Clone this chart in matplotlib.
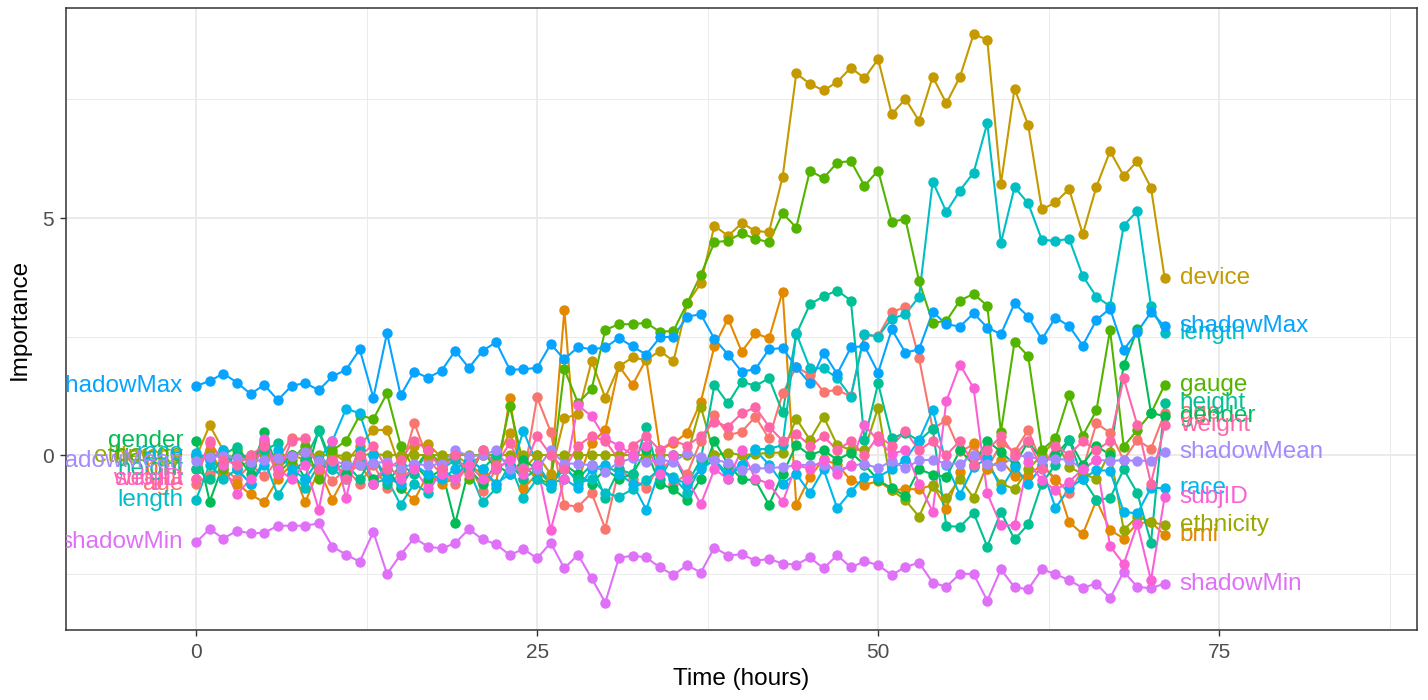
import numpy as np
import matplotlib
matplotlib.use("Agg")
import matplotlib.pyplot as plt
from matplotlib.ticker import MultipleLocator

hours = list(range(72))

age = [-0.60, -0.42, -0.30, -0.50, -0.20, -0.45, -0.10, 0.37, 0.33, -0.20, -0.55, -0.30,
       -0.60, -0.20, -0.70, -0.35, 0.68, -0.10, -0.40, -0.60, -0.20, -0.75, -0.30, -0.10,
       -0.50, 1.22, 0.49, -1.05, -1.09, -0.80, -1.55, -0.30, -0.50, -0.70, -0.20, -0.60,
       -0.40, 0.30, 0.84, 0.42, 0.49, 0.81, 0.35, 1.30, 1.86, 1.69, 1.34, 1.37,
       1.24, 2.53, 2.51, 3.02, 3.12, 2.04, 0.55, 0.74, 0.08, 0.22, -0.30, 0.25,
       0.07, 0.53, -0.20, -0.50, -0.80, -0.30, 0.67, 0.47, -0.10, 0.32, 0.13, 0.88]

bmi = [-0.30, 0.10, -0.40, -0.60, -0.83, -1.00, -0.50, -0.20, -1.00, -0.30, -0.94, -0.40,
       -0.20, -0.60, -0.30, -0.70, -0.95, -0.40, -0.60, -0.50, -0.20, -0.40, -0.60, 1.21,
       -0.70, -0.40, -0.50, 3.06, -0.53, 0.26, 0.53, 1.88, 1.48, 2.02, 0.11, 0.25,
       0.47, 1.12, 2.30, 2.88, 2.18, 2.57, 2.46, 3.45, -1.05, -0.46, -0.09, -0.20,
       -0.53, -0.63, -0.55, -0.74, -0.72, -0.72, -0.63, -1.13, -0.35, 0.25, -0.30, -0.10,
       -0.44, -0.44, -0.20, -0.53, -1.41, -1.67, -0.95, -1.58, -1.76, -1.44, -1.41, -1.69]

device = [-0.05, 0.63, 0.10, -0.30, -0.10, 0.10, -0.25, 0.00, -0.10, -0.35, 0.05, -0.15,
          0.20, 0.53, 0.53, -0.30, 0.20, 0.23, -0.05, 0.00, -0.20, 0.00, -0.10, 0.47,
          -0.30, 0.00, -0.40, 0.78, 0.86, 1.98, 1.21, 1.87, 2.06, 2.00, 2.20, 1.98,
          3.20, 3.62, 4.84, 4.62, 4.89, 4.73, 4.70, 5.87, 8.05, 7.83, 7.69, 7.87,
          8.17, 7.95, 8.35, 7.19, 7.51, 7.05, 7.98, 7.42, 7.98, 8.88, 8.76, 5.72,
          7.73, 6.96, 5.18, 5.33, 5.61, 4.66, 5.66, 6.41, 5.89, 6.20, 5.64, 3.74]

ethnicity = [-0.03, 0.00, 0.00, -0.05, 0.00, 0.02, 0.00, 0.00, 0.03, 0.00, 0.00, -0.02,
             0.00, 0.02, 0.00, 0.00, 0.00, 0.00, 0.00, 0.00, 0.00, 0.00, 0.00, 0.00,
             0.00, 0.00, 0.00, 0.00, 0.00, 0.00, 0.00, 0.00, 0.00, 0.00, 0.00, 0.00,
             0.00, 1.02, 0.00, 0.05, 0.00, 0.02, 0.05, 0.05, 0.77, 0.32, 0.81, 0.21,
             0.11, 0.11, 1.00, -0.74, -0.95, -1.30, -0.65, -0.90, -0.50, -0.90, -0.20, -0.60,
             -0.72, -0.30, 0.00, 0.32, -0.25, -0.40, -0.50, 0.07, -1.58, -1.30, -1.41, -1.48]

gauge = [0.00, -0.10, -0.30, 0.10, -0.20, 0.30, -0.40, -0.10, 0.20, -0.50, 0.10, 0.30,
         0.84, 0.76, 1.30, 0.20, -0.30, 0.10, -0.20, 0.00, -0.50, 0.10, -0.30, 1.03,
         -0.20, -0.50, -0.60, 1.81, 1.10, 1.39, 2.64, 2.76, 2.76, 2.79, 2.60, 2.62,
         3.20, 3.80, 4.49, 4.52, 4.68, 4.56, 4.49, 5.10, 4.80, 6.00, 5.84, 6.17,
         6.20, 5.68, 6.00, 4.92, 4.98, 3.67, 2.79, 2.83, 3.26, 3.40, 3.15, 0.49,
         2.39, 2.09, 0.11, 0.35, 1.27, 0.41, 0.94, 2.64, 0.18, 0.53, 0.88, 1.48]

gender = [0.30, -0.98, -0.20, 0.00, -0.40, 0.49, -0.30, 0.00, -0.50, 0.53, -0.20, -0.40,
          0.00, -0.50, -0.30, -0.70, -0.20, -0.50, -0.30, -1.44, -0.30, -0.60, -0.20, -0.40,
          -0.10, -0.30, -0.60, -0.20, -0.40, -0.60, -0.30, -0.50, -0.40, 0.10, -0.60, -0.72,
          -0.95, -0.50, 0.30, -0.20, -0.51, -0.53, -1.05, -0.40, 0.21, 0.00, 0.10, -0.10,
          0.05, -0.20, -0.53, -0.70, -0.86, -0.30, -0.41, -0.46, 0.10, -0.20, 0.30, 0.07,
          -0.20, 0.28, -0.10, 0.00, 0.32, -0.20, 0.20, 0.00, 1.90, 2.65, 0.89, 0.82]

height = [-0.30, -0.50, 0.00, 0.18, -0.20, 0.10, 0.25, -0.40, -0.10, 0.50, -0.30, -0.20,
          -0.50, 0.00, -0.60, -0.20, -0.40, 0.10, -0.30, -0.50, -0.10, -0.30, 0.00, -0.20,
          -0.50, -0.30, -0.60, -0.30, -0.50, -0.20, -0.90, -0.30, -0.40, 0.60, -0.50, 0.00,
          -0.60, -0.10, 1.48, 1.09, 1.55, 1.46, 1.62, 0.90, 2.55, 3.18, 3.35, 3.47,
          3.26, 0.32, 1.51, 0.35, 0.47, 0.30, 0.56, -1.50, -1.51, -1.22, -1.93, -1.20,
          -1.78, -1.46, -0.60, -0.20, 0.32, -0.50, -0.94, -0.91, -0.30, -0.80, -1.85, 1.10]

length = [-0.94, -0.20, -0.50, -0.30, -0.60, -0.10, -0.85, -0.40, -0.70, -0.20, -0.30, -0.50,
          0.10, -0.60, -0.50, -1.05, -0.60, -0.80, -0.30, -0.10, -0.30, -1.00, -0.70, -0.20,
          -0.90, -0.50, -0.70, -0.20, -0.60, -0.50, -0.80, -0.88, -0.72, -0.53, -0.30, -0.46,
          -0.80, -0.25, -0.10, -0.50, -0.20, 0.12, 0.13, 0.21, 2.57, 1.83, 1.83, 1.62,
          1.23, 2.55, 2.50, 2.88, 2.97, 3.34, 5.77, 5.13, 5.58, 5.96, 7.00, 4.47,
          5.65, 5.31, 4.54, 4.52, 4.56, 3.78, 3.34, 3.14, 4.84, 5.15, 3.14, 2.57]

race = [0.05, -0.10, 0.10, -0.30, -0.60, -0.20, 0.10, -0.30, -0.50, -0.10, 0.30, 0.98,
        0.88, 0.00, -0.50, -0.60, -0.20, -0.40, -0.50, -0.30, -0.10, -0.30, -0.60, -0.40,
        0.51, -0.20, -0.60, -0.50, -0.70, -0.30, -0.20, -0.40, -0.60, -1.15, -0.30, -0.50,
        -0.60, -0.30, -0.10, -0.40, -0.20, 0.10, -0.20, -0.60, -0.40, -0.80, -0.30, -1.12,
        -0.77, -0.46, -0.46, -0.30, -0.10, 0.32, 0.96, -0.20, -0.84, -0.25, -0.07, -0.72,
        -0.25, -0.60, -0.25, -1.12, -0.70, -0.50, -0.32, -0.33, -1.20, -1.23, -0.69, -0.70]

shadowMax = [1.46, 1.56, 1.72, 1.53, 1.29, 1.48, 1.16, 1.46, 1.52, 1.37, 1.66, 1.80,
             2.23, 1.21, 2.57, 1.26, 1.76, 1.63, 1.78, 2.20, 1.84, 2.20, 2.38, 1.80,
             1.81, 1.84, 2.34, 2.02, 2.28, 2.23, 2.27, 2.47, 2.29, 2.12, 2.48, 2.50,
             2.92, 2.97, 2.45, 2.12, 1.76, 1.81, 2.23, 2.26, 1.85, 1.51, 2.16, 1.71,
             2.27, 2.30, 1.74, 2.65, 2.16, 2.23, 3.02, 2.76, 2.71, 2.99, 2.69, 2.55,
             3.20, 2.92, 2.44, 2.90, 2.72, 2.31, 2.85, 3.09, 2.22, 2.60, 3.01, 2.72]

shadowMean = [-0.13, -0.05, -0.02, -0.07, -0.14, -0.10, -0.07, -0.02, 0.07, -0.13, -0.12, -0.20,
              -0.20, -0.17, -0.14, -0.28, -0.18, -0.22, -0.18, 0.11, -0.03, 0.00, 0.10, -0.30,
              -0.28, -0.30, 0.10, -0.18, -0.18, -0.22, -0.35, -0.15, -0.07, -0.14, -0.10, -0.14,
              0.04, -0.05, -0.10, -0.16, -0.32, -0.28, -0.28, -0.25, -0.22, -0.20, -0.20, -0.32,
              -0.23, -0.18, -0.28, -0.12, -0.28, -0.11, -0.10, -0.18, -0.18, 0.00, -0.18, -0.23,
              -0.02, -0.02, -0.11, -0.08, -0.10, -0.30, -0.10, -0.12, -0.11, -0.12, -0.12, 0.07]

shadowMin = [-1.84, -1.56, -1.76, -1.60, -1.65, -1.64, -1.49, -1.49, -1.49, -1.44, -1.93, -2.10,
             -2.25, -1.62, -2.51, -2.10, -1.75, -1.93, -1.97, -1.86, -1.56, -1.78, -1.88, -2.11,
             -1.98, -2.18, -1.85, -2.39, -2.10, -2.60, -3.11, -2.17, -2.12, -2.16, -2.37, -2.53,
             -2.32, -2.48, -1.95, -2.12, -2.09, -2.23, -2.19, -2.29, -2.31, -2.16, -2.39, -2.11,
             -2.37, -2.24, -2.32, -2.53, -2.36, -2.27, -2.69, -2.78, -2.50, -2.51, -3.07, -2.41,
             -2.79, -2.83, -2.41, -2.51, -2.64, -2.80, -2.71, -3.02, -2.46, -2.78, -2.81, -2.71]

subjID = [-0.50, 0.30, -0.20, -0.83, -0.50, 0.33, -0.30, -0.50, -0.20, -1.15, 0.30, -0.91,
          0.30, -0.60, -0.20, -0.50, -0.30, -0.70, -0.40, -0.50, -0.20, -0.50, -0.30, -0.10,
          -0.40, -0.20, -1.58, -0.50, 1.05, 0.82, 0.35, 0.20, 0.00, 0.20, -0.40, 0.00,
          -0.50, -1.04, -0.30, -0.50, 0.10, -0.50, -0.60, -1.00, -0.20, -0.30, -0.10, -0.40,
          -0.20, 0.63, 0.30, 0.03, 0.10, -0.60, -1.20, 1.14, 1.91, 1.41, -0.81, -1.48,
          -1.48, -0.14, -0.53, -0.74, -0.56, -0.30, -0.10, -1.92, -2.30, -1.46, -2.64, -0.89]

weight = [-0.50, 0.25, -0.10, -0.20, 0.00, 0.20, -0.40, 0.30, 0.35, -0.30, -0.10, -0.50,
          0.00, 0.20, -0.30, -0.10, 0.30, 0.10, -0.30, 0.00, -0.40, 0.10, -0.20, 0.25,
          -0.30, 0.40, 0.00, -0.30, 0.20, 0.40, 0.30, -0.10, 0.20, 0.40, 0.10, 0.30,
          0.20, 0.40, 0.70, 0.60, 0.88, 1.01, 0.60, 0.30, 0.45, 0.20, 0.40, 0.10,
          0.30, 0.00, 0.40, 0.20, 0.50, 0.10, 0.30, 0.00, 0.30, -0.20, 0.10, 0.40,
          0.00, 0.30, -0.30, 0.20, 0.00, 0.30, 0.10, 0.30, 1.62, 0.63, -0.60, 0.63]

features = ["age", "bmi", "device", "ethnicity", "gauge", "gender", "height", "length",
            "race", "shadowMax", "shadowMean", "shadowMin", "subjID", "weight"]
series = [age, bmi, device, ethnicity, gauge, gender, height, length,
          race, shadowMax, shadowMean, shadowMin, subjID, weight]


def hcl_hex(h, c=100.0, l=65.0):
    # polar LUV -> sRGB, the default ggplot hue palette colours
    hr = np.deg2rad(h)
    u = c * np.cos(hr)
    v = c * np.sin(hr)
    xn, yn, zn = 95.047, 100.0, 108.883
    y = yn * ((l + 16) / 116) ** 3
    un = 4 * xn / (xn + 15 * yn + 3 * zn)
    vn = 9 * yn / (xn + 15 * yn + 3 * zn)
    up = u / (13 * l) + un
    vp = v / (13 * l) + vn
    x = 9 * y * up / (4 * vp)
    z = y * (12 - 3 * up - 20 * vp) / (4 * vp)
    m = np.array([[3.240479, -1.537150, -0.498535],
                  [-0.969256, 1.875992, 0.041556],
                  [0.055648, -0.204043, 1.057311]])
    rgb = m @ (np.array([x, y, z]) / 100.0)
    rgb = np.where(rgb <= 0.0031308, 12.92 * rgb, 1.055 * np.abs(rgb) ** (1 / 2.4) - 0.055)
    return tuple(np.clip(rgb, 0, 1))


n = len(features)
colors = [hcl_hex(15 + 360.0 * i / n) for i in range(n)]

plt.rcParams["font.family"] = ["Liberation Sans", "DejaVu Sans"]
fig = plt.figure(figsize=(14.28, 7.0), dpi=100)
ax = fig.add_axes([66 / 1428, 70 / 700, (1417 - 66) / 1428, (692 - 70) / 700])

# lines first, then all the points on top (same layering as geom_line + geom_point)
for vals, col in zip(series, colors):
    ax.plot(hours, vals, color=col, lw=1.5, zorder=3)
for vals, col in zip(series, colors):
    ax.plot(hours, vals, "o", color=col, ms=7.5, mec="none", zorder=4)

# direct labels at the first and last points
for name, vals, col in zip(features, series, colors):
    ax.text(hours[0] - 0.95, vals[0], name, color=col, fontsize=17.5,
            ha="right", va="center", clip_on=True, zorder=5)
    ax.text(hours[-1] + 1.1, vals[-1], name, color=col, fontsize=17.5,
            ha="left", va="center", clip_on=True, zorder=5)

ax.set_xlim(-9.53, 89.5)
ax.set_ylim(-3.69, 9.43)
ax.xaxis.set_major_locator(MultipleLocator(25))
ax.xaxis.set_minor_locator(MultipleLocator(12.5))
ax.yaxis.set_major_locator(MultipleLocator(5))
ax.yaxis.set_minor_locator(MultipleLocator(2.5))
ax.grid(which="major", color="#EBEBEB", lw=1.4, zorder=0)
ax.grid(which="minor", color="#EBEBEB", lw=0.7, zorder=0)
ax.set_axisbelow(True)
ax.tick_params(which="minor", length=0)
ax.tick_params(which="major", length=4, width=1.0, color="#333333",
               labelcolor="#4D4D4D", labelsize=15, pad=5)
for sp in ax.spines.values():
    sp.set_color("#333333")
    sp.set_linewidth(1.1)

ax.set_xlabel("Time (hours)", fontsize=17.5, labelpad=5)
ax.set_ylabel("Importance", fontsize=17.5, labelpad=8)

fig.savefig("out.png", dpi=100)
